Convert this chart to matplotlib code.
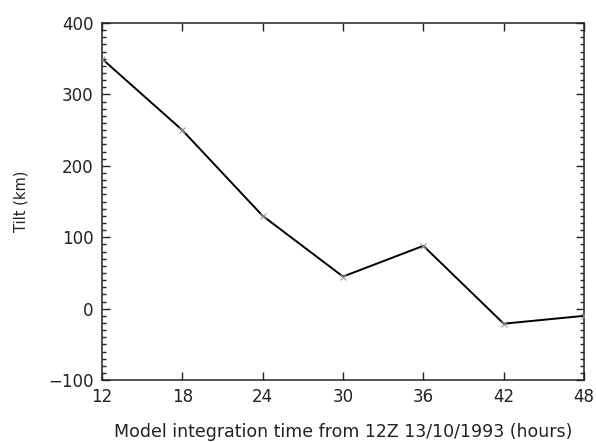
import matplotlib
matplotlib.use("Agg")
import matplotlib.pyplot as plt
from matplotlib.ticker import MultipleLocator

hours = [12, 18, 24, 30, 36, 42, 48]
tilt_km = [350, 250, 130, 45, 88, -21, -10]
xticks = [12, 18, 24, 30, 36, 42, 48]
yticks = [-100, 0, 100, 200, 300, 400]

txt = '#222222'
fig = plt.figure(figsize=(5.96, 4.42), dpi=100)
ax = fig.add_axes([0.171, 0.140, 0.809, 0.808])
ax.plot(hours, tilt_km, color='black', lw=1.4, marker='x', ms=5,
        mec='#999999', mew=0.8, zorder=3)
ax.set_xlim(12, 48)
ax.set_ylim(-100, 400)
ax.set_xticks(xticks)
ax.set_yticks(yticks)
ax.set_yticklabels(['\u2212100', '0', '100', '200', '300', '400'])
ax.yaxis.set_minor_locator(MultipleLocator(10))
ax.tick_params(which='both', direction='in', top=True, right=True,
               labelsize=12, labelcolor=txt, color='#222222')
ax.tick_params(axis='x', pad=6)
ax.tick_params(axis='y', pad=6)
ax.tick_params(which='major', length=6, width=1)
ax.tick_params(which='minor', length=3, width=1)
for s in ax.spines.values():
    s.set_linewidth(1.1)
    s.set_color('#222222')
ax.set_xlabel('Model integration time from 12Z 13/10/1993 (hours)', fontsize=12.5,
              color=txt, labelpad=12)
ax.set_ylabel('Tilt (km)', fontsize=10.5, color=txt, labelpad=14)
fig.savefig('out.png', dpi=100)
